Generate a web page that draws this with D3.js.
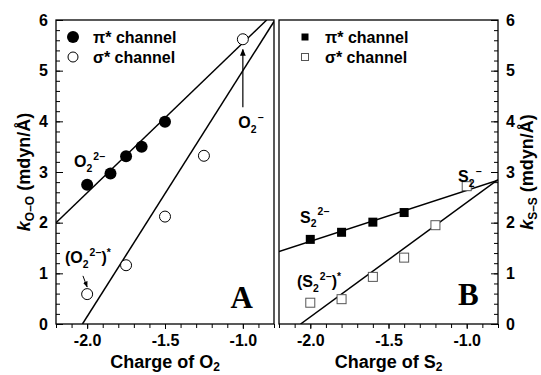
<!DOCTYPE html>
<html>
<head>
<meta charset="utf-8">
<script src="https://cdn.jsdelivr.net/npm/d3@7"></script>
<style>
  body { margin: 0; background: #fff; }
  text { font-family: "Liberation Sans", Arial, sans-serif; font-weight: bold; fill: #000; }
</style>
</head>
<body>
<div id="plot"></div>
<script>
// Data
const chargeO_pi = [-2.0, -1.85, -1.75, -1.65, -1.5];
const kO_pi = [2.75, 2.97, 3.31, 3.50, 3.99];
const chargeO_sigma = [-2.0, -1.75, -1.5, -1.25, -1.0];
const kO_sigma = [0.59, 1.16, 2.12, 3.32, 5.62];

const chargeS_pi = [-2.0, -1.8, -1.6, -1.4];
const kS_pi = [1.67, 1.81, 2.01, 2.20];
const chargeS_sigma = [-2.0, -1.8, -1.6, -1.4, -1.2, -1.0];
const kS_sigma = [0.42, 0.49, 0.93, 1.31, 1.95, 2.72];

// Fitted lines (end points in data units)
const fitO_pi = [[-2.2, 2.0], [-0.847, 6.0]];
const fitO_sigma = [[-2.03, 0], [-0.8, 5.97]];
const fitS_pi = [[-2.2, 1.43], [-0.8, 2.84]];
const fitS_sigma = [[-2.062, 0], [-0.8, 2.85]];

// Ticks
const xMajor = [-2.0, -1.5, -1.0];
const xMinor = d3.range(-22, -7).map(d => d / 10);
const yMajor = [0, 1, 2, 3, 4, 5, 6];
const yMinor = d3.range(0, 31).map(d => d / 5);

const width = 541, height = 375;
const svg = d3.select("#plot").append("svg")
    .attr("width", width)
    .attr("height", height);

const y = d3.scaleLinear().domain([0, 6]).range([324, 20]);
const xA = d3.scaleLinear().domain([-2.2, -0.8]).range([56, 274]);
const xB = d3.scaleLinear().domain([-2.2, -0.8]).range([279, 498]);

// clip paths
const defs = svg.append("defs");
[["clipA", xA], ["clipB", xB]].forEach(([id, x]) => {
    defs.append("clipPath").attr("id", id).append("rect")
        .attr("x", x.range()[0]).attr("y", y.range()[1])
        .attr("width", x.range()[1] - x.range()[0])
        .attr("height", y.range()[0] - y.range()[1]);
});
const arrowDef = defs.append("marker")
    .attr("id", "arrow").attr("viewBox", "0 0 10 10")
    .attr("refX", 9).attr("refY", 5)
    .attr("markerWidth", 6).attr("markerHeight", 6)
    .attr("orient", "auto-start-reverse");
arrowDef.append("path").attr("d", "M0,1L10,5L0,9z").attr("fill", "#000");

function drawAxes(x, side) {
    // bottom
    svg.append("g")
        .attr("transform", `translate(0,${y.range()[0]})`)
        .call(d3.axisBottom(x).tickValues(xMinor).tickFormat("").tickSize(4).tickSizeOuter(0))
        .call(g => g.select(".domain").remove());
    svg.append("g")
        .attr("transform", `translate(0,${y.range()[0]})`)
        .call(d3.axisBottom(x).tickValues(xMajor).tickFormat(d => d.toFixed(1)).tickSize(5).tickPadding(6).tickSizeOuter(0))
        .call(g => g.select(".domain").remove())
        .style("font-size", "16px");

    // vertical
    const xPos = side === "left" ? x.range()[0] : x.range()[1];
    const axisFn = side === "left" ? d3.axisLeft : d3.axisRight;
    svg.append("g")
        .attr("transform", `translate(${xPos},0)`)
        .call(axisFn(y).tickValues(yMinor).tickFormat("").tickSizeInner(-4).tickSizeOuter(0))
        .call(g => g.select(".domain").remove());
    svg.append("g")
        .attr("transform", `translate(${xPos},0)`)
        .call(axisFn(y).tickValues(yMajor).tickFormat(d3.format("d")).tickSizeInner(-7).tickPadding(8).tickSizeOuter(0))
        .call(g => g.select(".domain").remove())
        .style("font-size", "16px");

    svg.selectAll(".tick text").attr("font-family", null).attr("font-size", null);
    svg.selectAll(".tick line").attr("stroke-width", 1);

    // frame
    svg.append("rect")
        .attr("x", x.range()[0]).attr("y", y.range()[1])
        .attr("width", x.range()[1] - x.range()[0])
        .attr("height", y.range()[0] - y.range()[1])
        .attr("fill", "none").attr("stroke", "#000").attr("stroke-width", 1.3);
}

drawAxes(xA, "left");
drawAxes(xB, "right");

function drawFit(x, pts, clip) {
    svg.append("path")
        .datum(pts)
        .attr("clip-path", `url(#${clip})`)
        .attr("d", d3.line().x(d => x(d[0])).y(d => y(d[1])))
        .attr("fill", "none").attr("stroke", "#000").attr("stroke-width", 1.5);
}
drawFit(xA, fitO_pi, "clipA");
drawFit(xA, fitO_sigma, "clipA");
drawFit(xB, fitS_pi, "clipB");
drawFit(xB, fitS_sigma, "clipB");

// Panel A points
svg.append("g").selectAll("circle")
    .data(d3.zip(chargeO_pi, kO_pi)).join("circle")
    .attr("cx", d => xA(d[0])).attr("cy", d => y(d[1])).attr("r", 6)
    .attr("fill", "#000");
svg.append("g").selectAll("circle")
    .data(d3.zip(chargeO_sigma, kO_sigma)).join("circle")
    .attr("cx", d => xA(d[0])).attr("cy", d => y(d[1])).attr("r", 5.5)
    .attr("fill", "#fff").attr("stroke", "#000").attr("stroke-width", 1);

// Panel B points
const sq = 9;
svg.append("g").selectAll("rect")
    .data(d3.zip(chargeS_pi, kS_pi)).join("rect")
    .attr("x", d => xB(d[0]) - sq / 2).attr("y", d => y(d[1]) - sq / 2)
    .attr("width", sq).attr("height", sq).attr("fill", "#000");
svg.append("g").selectAll("rect")
    .data(d3.zip(chargeS_sigma, kS_sigma)).join("rect")
    .attr("x", d => xB(d[0]) - sq / 2).attr("y", d => y(d[1]) - sq / 2)
    .attr("width", sq).attr("height", sq)
    .attr("fill", "#fff").attr("stroke", "#555").attr("stroke-width", 1);

// Legends
function legend(x0, filledFn, openFn) {
    const items = [["π* channel", true], ["σ* channel", false]];
    items.forEach(([label, filled], i) => {
        const cy = 37 + i * 20;
        (filled ? filledFn : openFn)(x0, cy);
        svg.append("text").attr("x", x0 + 20).attr("y", cy + 6)
            .style("font-size", "16px").text(label);
    });
}
legend(73,
    (x, cy) => svg.append("circle").attr("cx", x).attr("cy", cy).attr("r", 6).attr("fill", "#000"),
    (x, cy) => svg.append("circle").attr("cx", x).attr("cy", cy).attr("r", 5).attr("fill", "#fff").attr("stroke", "#000"));
legend(305,
    (x, cy) => svg.append("rect").attr("x", x - 3.5).attr("y", cy - 3.5).attr("width", 7).attr("height", 7).attr("fill", "#000"),
    (x, cy) => svg.append("rect").attr("x", x - 3.5).attr("y", cy - 3.5).attr("width", 7).attr("height", 7).attr("fill", "#fff").attr("stroke", "#555"));

// Rich text helper: parts are [text, kind] where kind is "", "sub", "sup", "supOverSub"
function rich(x, yy, parts, size) {
    const t = svg.append("text").attr("x", x).attr("y", yy).style("font-size", size + "px");
    let shift = 0;
    parts.forEach(([s, kind]) => {
        const ts = t.append("tspan").text(s);
        let target = 0;
        if (kind === "sub") { target = 0.3 * size; ts.style("font-size", (size * 0.65) + "px"); }
        if (kind === "sup" || kind === "supOverSub") { target = -0.45 * size; ts.style("font-size", (size * 0.65) + "px"); }
        if (kind === "supOverSub") ts.attr("dx", 1);
        ts.attr("dy", target - shift);
        shift = target;
    });
    return t;
}

// Panel A annotations
rich(xA(-2.084), y(3.10), [["O", ""], ["2", "sub"], ["2−", "supOverSub"]], 16);
rich(xA(-1.03), y(3.87), [["O", ""], ["2", "sub"], ["−", "supOverSub"]], 16);
rich(xA(-2.142), y(1.2), [["(O", ""], ["2", "sub"], ["2−", "supOverSub"], [")", ""], ["*", "sup"]], 16);
svg.append("line")
    .attr("x1", xA(-1.0)).attr("y1", y(4.28))
    .attr("x2", xA(-1.0)).attr("y2", y(5.42))
    .attr("stroke", "#000").attr("stroke-width", 1.2).attr("marker-end", "url(#arrow)");
svg.append("line")
    .attr("x1", xA(-2.027)).attr("y1", y(0.95))
    .attr("x2", xA(-2.0)).attr("y2", y(0.73))
    .attr("stroke", "#000").attr("stroke-width", 1).attr("marker-end", "url(#arrow)");
svg.append("text").attr("x", xA(-1.08)).attr("y", y(0.32))
    .style("font-family", "'Liberation Serif', 'Times New Roman', serif")
    .style("font-size", "31px").text("A");

// Panel B annotations
rich(xB(-2.066), y(2.0), [["S", ""], ["2", "sub"], ["2−", "supOverSub"]], 16);
rich(xB(-1.056), y(2.80), [["S", ""], ["2", "sub"], ["−", "supOverSub"]], 16);
rich(xB(-2.085), y(0.73), [["(S", ""], ["2", "sub"], ["2−", "supOverSub"], [")", ""], ["*", "sup"]], 16);
svg.append("text").attr("x", xB(-1.056)).attr("y", y(0.375))
    .style("font-family", "'Liberation Serif', 'Times New Roman', serif")
    .style("font-size", "31px").text("B");

// Axis titles
function axisTitle(x0, sym) {
    const t = svg.append("text").attr("x", x0).attr("y", 368)
        .attr("text-anchor", "middle").style("font-size", "18px");
    t.append("tspan").text("Charge of " + sym);
    t.append("tspan").text("2").attr("dy", 3).style("font-size", "12px");
}
axisTitle((56 + 274) / 2, "O");
axisTitle((279 + 498) / 2, "S");

function yTitle(cx, sub) {
    const t = svg.append("text")
        .attr("transform", `translate(${cx},${(20 + 324) / 2}) rotate(-90)`)
        .attr("text-anchor", "middle").style("font-size", "18px");
    t.append("tspan").text("k").style("font-style", "italic");
    t.append("tspan").text(sub).attr("dy", 4).style("font-size", "12px");
    t.append("tspan").text(" (mdyn/Å)").attr("dy", -4);
}
yTitle(30, "O–O");
yTitle(533, "S–S");
</script>
</body>
</html>
